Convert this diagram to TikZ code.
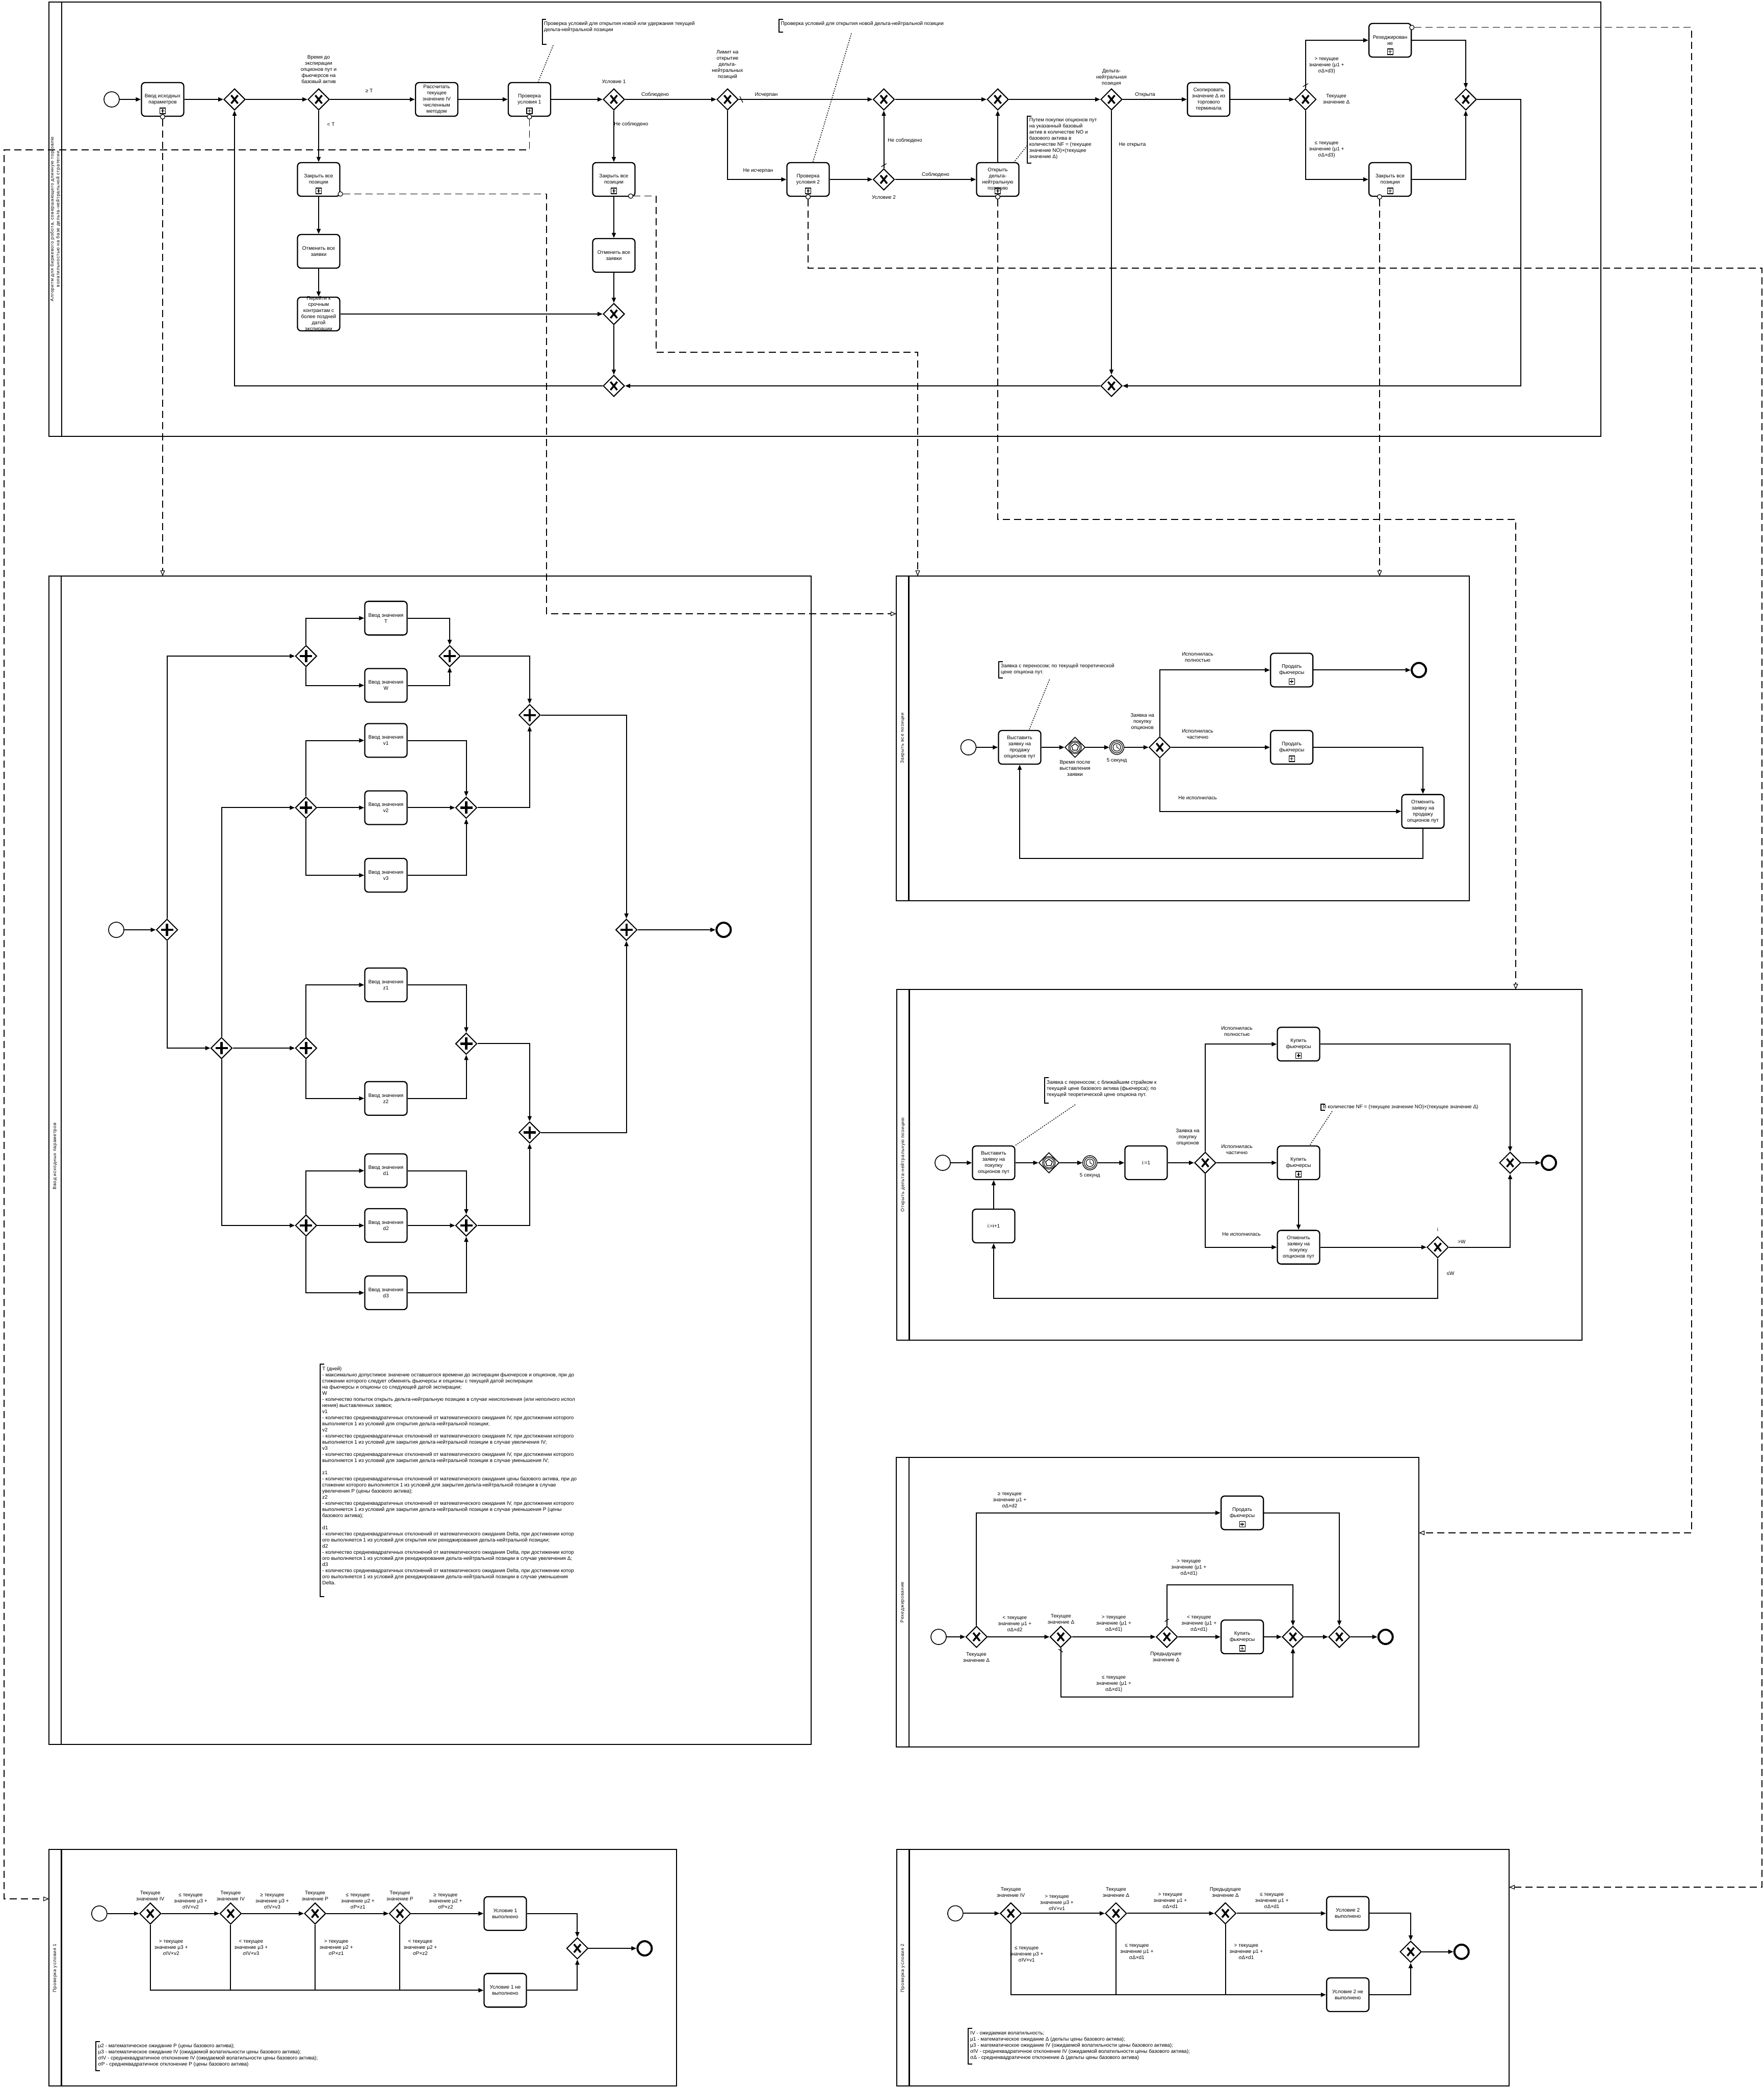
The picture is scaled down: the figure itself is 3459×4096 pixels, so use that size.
\documentclass[tikz,border=0pt]{standalone}
\usepackage{fontspec}
\setmainfont{Liberation Sans}
\newfontfamily\lanefont[LetterSpace=8]{Liberation Sans}
\usetikzlibrary{arrows.meta,shapes.geometric}

% inner marks of an event-based gateway and of a timer event
\newcommand\evgwmark[1]{%
  \draw[line width=1.2pt] (#1.center) circle[radius=12.5pt] (#1.center) circle[radius=10pt];
  \node[regular polygon, regular polygon sides=5, draw, line width=1.4pt, minimum size=14pt, inner sep=0pt] (#1-pent) at (#1.center) {};}
\newcommand\clockmark[1]{%
  \draw[line width=1.2pt] (#1.center) circle[radius=11pt];
  \draw[line width=1.2pt] (#1.center) circle[radius=7.5pt];
  \draw[line width=1.1pt] (#1.center) -- ([yshift=5.5pt]#1.center) (#1.center) -- ([xshift=4pt,yshift=-2.5pt]#1.center);}

\begin{document}
\begin{tikzpicture}[x=1pt,y=-1pt,
  font=\fontsize{10}{12}\selectfont,
  pool/.style={draw, line width=2.6pt},
  lanelbl/.style={rotate=90, align=center, inner sep=0pt, font={\lanefont\fontsize{9}{11.5}\selectfont}},
  task/.style={draw, rounded corners=7pt, line width=2.3pt, minimum width=83pt, minimum height=66pt,
    inner sep=1pt, align=center, fill=white},
  sub/.style={task, path picture={
    \draw[sharp corners, line width=1.2pt] ([xshift=-5.5pt,yshift=5pt]path picture bounding box.south) rectangle ([xshift=5.5pt,yshift=16pt]path picture bounding box.south);
    \draw[sharp corners, line width=1.5pt] ([yshift=7pt]path picture bounding box.south) -- ([yshift=14pt]path picture bounding box.south)
      ([xshift=-3.5pt,yshift=10.5pt]path picture bounding box.south) -- ([xshift=3.5pt,yshift=10.5pt]path picture bounding box.south);}},
  gw/.style={diamond, draw, line width=2pt, minimum width=42pt, minimum height=42pt, inner sep=0pt, aspect=1, fill=white},
  xgw/.style={gw, path picture={\draw[line width=3.6pt]
    ([xshift=-6.5pt,yshift=-8pt]path picture bounding box.center) -- ([xshift=6.5pt,yshift=8pt]path picture bounding box.center)
    ([xshift=-6.5pt,yshift=8pt]path picture bounding box.center) -- ([xshift=6.5pt,yshift=-8pt]path picture bounding box.center);}},
  pgw/.style={gw, path picture={\draw[line width=4.4pt]
    ([yshift=-12pt]path picture bounding box.center) -- ([yshift=12pt]path picture bounding box.center)
    ([xshift=-12pt]path picture bounding box.center) -- ([xshift=12pt]path picture bounding box.center);}},
  egw/.style={gw, line width=1.6pt, minimum width=40pt, minimum height=40pt},
  startev/.style={circle, draw, line width=1.6pt, minimum size=30pt, inner sep=0pt, fill=white},
  endev/.style={circle, draw, line width=4pt, minimum size=28pt, inner sep=0pt, fill=white},
  timer/.style={circle, draw, line width=1.4pt, minimum size=28pt, inner sep=0pt, fill=white},
  seq/.style={line width=2pt, -{Triangle[length=10pt,width=8pt]}},
  plain/.style={line width=2pt},
  msg/.style={line width=1.2pt, dash pattern=on 14pt off 8pt, -{Triangle[fill=white,length=11pt,width=9pt]}},
  mc/.style={circle, draw, fill=white, line width=1.2pt, minimum size=9pt, inner sep=0pt},
  lbl/.style={align=center, inner sep=0pt},
  note/.style={align=left, inner sep=0pt, anchor=north west},
  brk/.style={line width=2pt},
  assoc/.style={line width=1.5pt, dash pattern=on 2pt off 2.5pt},
  dflt/.style={line width=1.3pt}]
\useasboundingbox (0,0) rectangle (3459,4096);

% ================= main algorithm pool =================
\draw[pool] (96,4) rectangle (3140,856);
\draw[pool] (121,4) -- (121,856);
\node[lanelbl] (L1) at (108.5,430) {Алгоритм для  биржевого робота, совершающего длинную торговлю\\волатильностью на базе дельта-нейтральной стратегии};

\node[startev] (s1) at (219,195) {};
\node[sub] (tin) at (319,195) {Ввод исходных\\параметров};
\node[xgw] (g1) at (460,195) {};
\node[xgw] (g2) at (625,195) {};
\node[lbl, anchor=south] (g2l) at (625,164) {Время до\\экспирации\\опционов пут и\\фьючерсов на\\базовый актив};
\node[task] (tiv) at (856.5,195) {Рассчитать\\текущее\\значение IV\\численным\\методом};
\node[sub] (tc1) at (1038.5,195) {Проверка\\условия 1};
\node[xgw] (g3) at (1204,195) {};
\node[lbl] (g3l) at (1204,160) {Условие 1};
\node[xgw] (g4) at (1427,195) {};
\node[lbl, anchor=south] (g4l) at (1427,156) {Лимит на\\открытие\\дельта-\\нейтральных\\позиций};
\node[xgw] (ga) at (1733.5,195) {};
\node[xgw] (gb) at (1957,195) {};
\node[xgw] (gdn) at (2180,195) {};
\node[lbl, anchor=south] (gdnl) at (2180,169) {Дельта-\\нейтральная\\позиция};
\node[task] (tcopy) at (2370.6,195) {Скопировать\\значение Δ из\\торгового\\терминала};
\node[xgw] (gdel) at (2560.6,195) {};
\node[lbl] (gdell) at (2621,194) {Текущее\\значение Δ};
\node[sub] (treh) at (2726.6,79) {Рехеджирован\\ие};
\node[sub] (tcl3) at (2726.6,352) {Закрыть все\\позиции};
\node[xgw] (gm) at (2875,195) {};
\node[sub] (tcl1) at (625,352) {Закрыть все\\позиции};
\node[task] (tcan1) at (625,493) {Отменить все\\заявки};
\node[task] (tmove) at (625,616) {};
\node[lbl] (tmovel) at (tmove.center) {Перейти к\\срочным\\контрактам с\\более поздней\\датой\\экспирации};
\node[sub] (tcl2) at (1204,352) {Закрыть все\\позиции};
\node[task] (tcan2) at (1204,501) {Отменить все\\заявки};
\node[xgw] (g5) at (1204,616) {};
\node[xgw] (g6) at (1204,757) {};
\node[sub] (tc2) at (1585,352) {Проверка\\условия 2};
\node[xgw] (gc2) at (1733.5,352) {};
\node[lbl] (gc2l) at (1733.5,387) {Условие 2};
\node[sub] (topen) at (1957,352) {Открыть\\дельта-\\нейтральную\\позицию};
\node[xgw] (g7) at (2180,757) {};

\node[lbl] at (724,178) {≥  T};
\node[lbl] at (649,244) {< T};
\node[lbl] at (1285,186) {Соблюдено};
\node[lbl] at (1238,244) {Не соблюдено};
\node[lbl] at (1503,186) {Исчерпан};
\node[lbl] at (1487,335) {Не исчерпан};
\node[lbl] at (1775,276) {Не соблюдено};
\node[lbl] at (1835,343) {Соблюдено};
\node[lbl] at (2246,186) {Открыта};
\node[lbl] at (2221,284) {Не открыта};
\node[lbl] at (2602,129) {> текущее\\значение (μ1 +\\σΔ×d3)};
\node[lbl] at (2602,294) {≤ текущее\\значение (μ1 +\\σΔ×d3)};

\draw[brk] (1071,37.7) -| (1063.5,87) -- ++(8,0);
\node[note] (n1) at (1067,42) {Проверка условий для открытия новой или удержания текущей\\дельта-нейтральной позиции};
\draw[assoc] (1085,89) -- ([xshift=17pt]tc1.north);
\draw[brk] (1535.5,37.7) -| (1527.5,62.7) -- ++(8,0);
\node[note] (n2) at (1531.5,42) {Проверка условий для открытия новой дельта-нейтральной позиции};
\draw[assoc] (1670,65.5) -- ([xshift=9.5pt]tc2.north);
\draw[brk] (2022.7,227.5) -| (2014.7,320) -- ++(8,0);
\node[note] (n3) at (2018.6,231.5) {Путем покупки опционов пут\\на указанный базовый\\актив в количестве NO и\\базового актива в\\количестве NF = (текущее\\значение NO)×(текущее\\значение Δ)};
\draw[assoc] (2014.7,285.7) -- ([xshift=32pt]topen.north);

\draw[seq] (s1) -- (tin);
\draw[seq] (tin) -- (g1);
\draw[seq] (g1) -- (g2);
\draw[seq] (g2) -- (tiv);
\draw[seq] (tiv) -- (tc1);
\draw[seq] (tc1) -- (g3);
\draw[seq] (g3) -- (g4);
\draw[seq] (g4) -- (ga);
\draw[seq] (ga) -- (gb);
\draw[seq] (gb) -- (gdn);
\draw[seq] (gdn) -- (tcopy);
\draw[seq] (tcopy) -- (gdel);
\draw[seq] (gdel.north) |- (treh.west);
\draw[seq] (gdel.south) |- (tcl3.west);
\draw[seq] (treh.east) -| (gm.north);
\draw[seq] (tcl3.east) -| (gm.south);
\draw[seq] (gm.east) -- ++(86,0) |- (g7.east);
\draw[seq] (gdn.south) -- (g7.north);
\draw[seq] (g7.west) -- (g6.east);
\draw[seq] (g6.west) -| (g1.south);
\draw[seq] (g2.south) -- (tcl1.north);
\draw[seq] (tcl1) -- (tcan1);
\draw[seq] (tcan1) -- (tmove);
\draw[seq] (tmove) -- (g5);
\draw[seq] (g3.south) -- (tcl2.north);
\draw[seq] (tcl2) -- (tcan2);
\draw[seq] (tcan2) -- (g5);
\draw[seq] (g5) -- (g6);
\draw[seq] (g4.south) |- (tc2.west);
\draw[seq] (tc2) -- (gc2);
\draw[seq] (gc2) -- (ga);
\draw[seq] (gc2) -- (topen);
\draw[seq] (topen) -- (gb);
% default-flow marks
\draw[dflt] ([xshift=2pt,yshift=6pt]g4.east) -- ([xshift=8pt,yshift=-6pt]g4.east);
\draw[dflt] ([xshift=-5pt,yshift=3pt]gc2.north) -- ([xshift=5pt,yshift=9pt]gc2.north);
\draw[dflt] ([xshift=-5pt,yshift=3pt]gdel.north) -- ([xshift=5pt,yshift=9pt]gdel.north);

% ================= input parameters pool =================
\draw[pool] (96,1130) rectangle (1591,3422);
\draw[pool] (120,1130) -- (120,3422);
\node[lanelbl] (L2) at (108,2268) {Ввод исходных параметров};

\node[startev] (s2) at (228,1824) {};
\node[pgw] (pg0) at (327.6,1824) {};
\node[pgw] (pg1) at (600.3,1287) {};
\node[task] (tT) at (757,1212.6) {Ввод значения\\T};
\node[task] (tW) at (757,1344.5) {Ввод значения\\W};
\node[pgw] (pg1j) at (882,1287) {};
\node[pgw] (pgA) at (1038.8,1402.7) {};
\node[pgw] (pg2) at (434.5,2056) {};
\node[pgw] (pgv) at (600.3,1584.4) {};
\node[task] (tv1) at (757,1452.5) {Ввод значения\\v1};
\node[task] (tv2) at (757,1584.4) {Ввод значения\\v2};
\node[task] (tv3) at (757,1717) {Ввод значения\\v3};
\node[pgw] (pgvj) at (914.5,1584.4) {};
\node[pgw] (pgz) at (600.3,2056) {};
\node[task] (tz1) at (757,1932) {Ввод значения\\z1};
\node[task] (tz2) at (757,2154.7) {Ввод значения\\z2};
\node[pgw] (pgzj) at (914.5,2047.4) {};
\node[pgw] (pgB) at (1038.8,2221.5) {};
\node[pgw] (pgd) at (600.3,2404) {};
\node[task] (td1) at (757,2296.5) {Ввод значения\\d1};
\node[task] (td2) at (757,2404) {Ввод значения\\d2};
\node[task] (td3) at (757,2536) {Ввод значения\\d3};
\node[pgw] (pgdj) at (914.5,2404) {};
\node[pgw] (pgE) at (1228.7,1824) {};
\node[endev] (e2) at (1419.4,1824) {};

\draw[seq] (s2) -- (pg0);
\draw[seq] (pg0.north) |- (pg1.west);
\draw[seq] (pg0.south) |- (pg2.west);
\draw[seq] (pg1.north) |- (tT.west);
\draw[seq] (pg1.south) |- (tW.west);
\draw[seq] (tT.east) -| (pg1j.north);
\draw[seq] (tW.east) -| (pg1j.south);
\draw[seq] (pg1j.east) -| (pgA.north);
\draw[seq] (pgvj.east) -| (pgA.south);
\draw[seq] (pgA.east) -| (pgE.north);
\draw[seq] (pg2.north) |- (pgv.west);
\draw[seq] (pg2) -- (pgz);
\draw[seq] (pg2.south) |- (pgd.west);
\draw[seq] (pgv.north) |- (tv1.west);
\draw[seq] (pgv) -- (tv2);
\draw[seq] (pgv.south) |- (tv3.west);
\draw[seq] (tv1.east) -| (pgvj.north);
\draw[seq] (tv2) -- (pgvj);
\draw[seq] (tv3.east) -| (pgvj.south);
\draw[seq] (pgz.north) |- (tz1.west);
\draw[seq] (pgz.south) |- (tz2.west);
\draw[seq] (tz1.east) -| (pgzj.north);
\draw[seq] (tz2.east) -| (pgzj.south);
\draw[seq] (pgzj.east) -| (pgB.north);
\draw[seq] (pgdj.east) -| (pgB.south);
\draw[seq] (pgB.east) -| (pgE.south);
\draw[seq] (pgd.north) |- (td1.west);
\draw[seq] (pgd) -- (td2);
\draw[seq] (pgd.south) |- (td3.west);
\draw[seq] (td1.east) -| (pgdj.north);
\draw[seq] (td2) -- (pgdj);
\draw[seq] (td3.east) -| (pgdj.south);
\draw[seq] (pgE) -- (e2);

\draw[brk] (636,2676) -| (628,3132) -- ++(8,0);
\node[note] (n4) at (632,2681) {T (дней)\\
- максимально допустимое значение оставшегося времени до экспирации фьючерсов и опционов, при до\\
стижении которого следует обменять фьючерсы и опционы с текущей датой экспирации\\
на фьючерсы и опционы со следующей датой экспирации;\\
W\\
- количество попыток открыть дельта-нейтральную позицию в случае неисполнения (или неполного испол\\
нения) выставленных заявок;\\
v1\\
- количество среднеквадратичных отклонений от математического ожидания IV, при достижении которого\\
выполняется 1 из условий для открытия дельта-нейтральной позиции;\\
v2\\
- количество среднеквадратичных отклонений от математического ожидания IV, при достижении которого\\
выполняется 1 из условий для закрытия дельта-нейтральной позиции в случае увеличения IV;\\
v3\\
- количество среднеквадратичных отклонений от математического ожидания IV, при достижении которого\\
выполняется 1 из условий для закрытия дельта-нейтральной позиции в случае уменьшения IV;\\
~\\
z1\\
- количество среднеквадратичных отклонений от математического ожидания цены базового актива, при до\\
стижении которого выполняется 1 из условий для закрытия дельта-нейтральной позиции в случае\\
увеличения P (цены базового актива);\\
z2\\
- количество среднеквадратичных отклонений от математического ожидания IV, при достижении которого\\
выполняется 1 из условий для закрытия дельта-нейтральной позиции в случае уменьшения P (цены\\
базового актива);\\
~\\
d1\\
- количество среднеквадратичных отклонений от математического ожидания Delta, при достижении котор\\
ого выполняется 1 из условий для открытия или рехеджирования дельта-нейтральной позиции;\\
d2\\
- количество среднеквадратичных отклонений от математического ожидания Delta, при достижении котор\\
ого выполняется 1 из условий для рехеджирования дельта-нейтральной позиции в случае увеличения Δ;\\
d3\\
- количество среднеквадратичных отклонений от математического ожидания Delta, при достижении котор\\
ого выполняется 1 из условий для рехеджирования дельта-нейтральной позиции в случае уменьшения\\
Delta.};

% ================= close all positions pool =================
\draw[pool] (1758,1130) rectangle (2882,1767);
\draw[pool] (1782.5,1130) -- (1782.5,1767);
\node[lanelbl] (L3) at (1770.5,1448) {Закрыть все позиции};

\node[startev] (s3) at (1899.5,1466) {};
\node[task] (t3a) at (2000,1466) {Выставить\\заявку на\\продажу\\опционов пут};
\node[egw] (eg3) at (2108.6,1466) {};
\evgwmark{eg3}
\node[timer] (tm3) at (2190.6,1466) {};
\clockmark{tm3}
\node[xgw] (gx3) at (2274.8,1466) {};
\node[sub] (t3b) at (2533.6,1314.4) {Продать\\фьючерсы};
\node[endev] (e3) at (2783,1314.4) {};
\node[sub] (t3c) at (2533.6,1466) {Продать\\фьючерсы};
\node[task] (t3d) at (2791,1591.6) {Отменить\\заявку на\\продажу\\опционов пут};

\node[lbl, anchor=north] at (2108.6,1491) {Время после\\выставления\\заявки};
\node[lbl] at (2190.6,1492) {5 секунд};
\node[lbl] at (2240.7,1415.5) {Заявка на\\покупку\\опционов};
\node[lbl] at (2349,1289) {Исполнилась\\полностью};
\node[lbl] at (2349,1440) {Исполнилась\\частично};
\node[lbl] at (2349,1565) {Не исполнилась};
\draw[brk] (1967,1297.5) -| (1959,1330) -- ++(8,0);
\node[note] (n5) at (1963,1301.5) {Заявка с переносом; по текущей теоретической\\цене опциона пут.};
\draw[assoc] (2058.5,1333) -- ([xshift=18.5pt]t3a.north);

\draw[seq] (s3) -- (t3a);
\draw[seq] (t3a) -- (eg3);
\draw[seq] (eg3) -- (tm3);
\draw[seq] (tm3) -- (gx3);
\draw[seq] (gx3.north) |- (t3b.west);
\draw[seq] (t3b) -- (e3);
\draw[seq] (gx3) -- (t3c);
\draw[seq] (t3c.east) -| (t3d.north);
\draw[seq] (gx3.south) |- (t3d.west);
\draw[seq] (t3d.south) -- ++(0,58.7) -| (t3a.south);

% ================= open delta-neutral position pool =================
\draw[pool] (1759,1941) rectangle (3103,2629);
\draw[pool] (1783.5,1941) -- (1783.5,2629);
\node[lanelbl] (L4) at (1771,2285) {Открыть дельта-нейтральную позицию};

\node[startev] (s4) at (1849,2281) {};
\node[task] (t4a) at (1949,2281) {Выставить\\заявку на\\покупку\\опционов пут};
\node[egw] (eg4) at (2057.4,2281) {};
\evgwmark{eg4}
\node[timer] (tm4) at (2137.8,2281) {};
\clockmark{tm4}
\node[task] (t4i) at (2248,2281) {i:=1};
\node[xgw] (gx4) at (2364,2281) {};
\node[sub] (t4b) at (2547,2048.3) {Купить\\фьючерсы};
\node[sub] (t4c) at (2547,2281) {Купить\\фьючерсы};
\node[task] (t4d) at (2547,2446.6) {Отменить\\заявку на\\покупку\\опционов пут};
\node[xgw] (gi) at (2820,2446.6) {};
\node[xgw] (gm4) at (2962,2281) {};
\node[endev] (e4) at (3038,2281) {};
\node[task] (t4inc) at (1949,2405) {i:=i+1};

\node[lbl] at (2137.8,2306) {5 секунд};
\node[lbl] at (2329.6,2230.5) {Заявка на\\покупку\\опционов};
\node[lbl] at (2426,2023) {Исполнилась\\полностью};
\node[lbl] at (2426,2255) {Исполнилась\\частично};
\node[lbl] at (2435,2421.5) {Не исполнилась};
\node[lbl] at (2820,2411.6) {i};
\node[lbl] at (2867,2436) {>W};
\node[lbl] at (2845,2498) {≤W};
\draw[brk] (2599,2166) -| (2591,2178) -- ++(8,0);
\node[note, anchor=west] (n6) at (2594.8,2171.5) {В количестве NF = (текущее значение NO)×(текущее значение Δ)};
\draw[assoc] (2613,2180) -- ([xshift=22pt]t4c.north);
\draw[brk] (2056.8,2113.7) -| (2048.8,2164.3) -- ++(8,0);
\node[note] (n7) at (2053,2119) {Заявка с переносом; с ближайшим страйком к\\текущей цене базового актива (фьючерса); по\\текущей теоретической цене опциона пут.};
\draw[assoc] (2109,2167) -- (t4a.north east);

\draw[seq] (s4) -- (t4a);
\draw[seq] (t4a) -- (eg4);
\draw[seq] (eg4) -- (tm4);
\draw[seq] (tm4) -- (t4i);
\draw[seq] (t4i) -- (gx4);
\draw[seq] (gx4.north) |- (t4b.west);
\draw[seq] (gx4) -- (t4c);
\draw[seq] (gx4.south) |- (t4d.west);
\draw[seq] (t4c) -- (t4d);
\draw[seq] (t4d) -- (gi);
\draw[seq] (gi.east) -| (gm4.south);
\draw[seq] (t4b.east) -| (gm4.north);
\draw[seq] (gm4) -- (e4);
\draw[seq] (gi.south) -- ++(0,78.4) -| (t4inc.south);
\draw[seq] (t4inc) -- (t4a);

% ================= rehedging pool =================
\draw[pool] (1758,2859) rectangle (2783,3427);
\draw[pool] (1783,2859) -- (1783,3427);
\node[lanelbl] (L5) at (1770.5,3143) {Рехеджирование};

\node[startev] (s5) at (1841,3211) {};
\node[xgw] (r1) at (1915.4,3211) {};
\node[sub] (tsell) at (2436.6,2967.7) {Продать\\фьючерсы};
\node[xgw] (r2) at (2080.5,3211) {};
\node[xgw] (r3) at (2288.7,3211) {};
\node[sub] (tbuy) at (2436.6,3211) {Купить\\фьючерсы};
\node[xgw] (r4) at (2536,3211) {};
\node[xgw] (r5) at (2627,3211) {};
\node[endev] (e5) at (2717.7,3211) {};

\node[lbl] at (1915,3251) {Текущее\\значение Δ};
\node[lbl] at (2081,3176) {Текущее\\значение Δ};
\node[lbl] at (2287,3250) {Предыдущее\\значение Δ};
\node[lbl] at (1980.4,2942.7) {≥ текущее\\значение μ1 +\\σΔ×d2};
\node[lbl] at (1990.4,3185.5) {< текущее\\значение μ1 +\\σΔ×d2};
\node[lbl] at (2184.6,3185.5) {> текущее\\значение (μ1 +\\σΔ×d1)};
\node[lbl] at (2184.6,3303) {≤ текущее\\значение (μ1 +\\σΔ×d1)};
\node[lbl] at (2331.8,3076) {> текущее\\значение (μ1 +\\σΔ×d1)};
\node[lbl] at (2351.7,3185.5) {< текущее\\значение (μ1 +\\σΔ×d1)};

\draw[seq] (s5) -- (r1);
\draw[seq] (r1.north) |- (tsell.west);
\draw[seq] (r1) -- (r2);
\draw[seq] (r2) -- (r3);
\draw[seq] (r2.south) -- ++(0,96) -| (r4.south);
\draw[seq] (r3.north) -- ++(0,-80) -| (r4.north);
\draw[seq] (r3) -- (tbuy);
\draw[seq] (tbuy) -- (r4);
\draw[seq] (r4) -- (r5);
\draw[seq] (tsell.east) -| (r5.north);
\draw[seq] (r5) -- (e5);
\draw[dflt] ([xshift=-4pt,yshift=-2pt]r2.south) -- ([xshift=4pt,yshift=-8pt]r2.south);
\draw[dflt] ([xshift=-4pt,yshift=8pt]r3.north) -- ([xshift=4pt,yshift=13pt]r3.north);

% ================= condition 1 check pool =================
\draw[pool] (96,3628) rectangle (1327,4092);
\draw[pool] (120.4,3628) -- (120.4,4092);
\node[lanelbl] (L6) at (108,3861) {Проверка условия 1};

\node[startev] (s6) at (194.8,3753.7) {};
\node[xgw] (c1) at (294.8,3753.7) {};
\node[xgw] (c2) at (452.4,3753.7) {};
\node[xgw] (c3) at (618,3753.7) {};
\node[xgw] (c4) at (784.4,3753.7) {};
\node[task] (tc1y) at (991,3753.7) {Условие 1\\выполнено};
\node[task] (tc1n) at (991,3904.3) {Условие 1 не\\выполнено};
\node[xgw] (cm) at (1132.4,3822) {};
\node[endev] (e6) at (1264.4,3822) {};

\node[lbl] at (294.8,3719.3) {Текущее\\значение IV};
\node[lbl] at (452.4,3719.3) {Текущее\\значение IV};
\node[lbl] at (618,3719.3) {Текущее\\значение P};
\node[lbl] at (784.4,3719.3) {Текущее\\значение P};
\node[lbl] at (374,3729) {≤ текущее\\значение μ3 +\\σIV×v2};
\node[lbl] at (534,3729) {≥ текущее\\значение μ3 +\\σIV×v3};
\node[lbl] at (702,3729) {≤ текущее\\значение μ2 +\\σP×z1};
\node[lbl] at (874,3729) {≥ текущее\\значение μ2 +\\σP×z2};
\node[lbl] at (335.6,3821) {> текущее\\значение μ3 +\\σIV×v2};
\node[lbl] at (492.4,3821) {< текущее\\значение μ3 +\\σIV×v3};
\node[lbl] at (659.6,3821) {> текущее\\значение μ2 +\\σP×z1};
\node[lbl] at (824.4,3821) {< текущее\\значение μ2 +\\σP×z2};

\draw[seq] (s6) -- (c1);
\draw[seq] (c1) -- (c2);
\draw[seq] (c2) -- (c3);
\draw[seq] (c3) -- (c4);
\draw[seq] (c4) -- (tc1y);
\draw[seq] (c1.south) |- (tc1n.west);
\draw[plain] (c2.south) -- (c2.south |- tc1n.west);
\draw[plain] (c3.south) -- (c3.south |- tc1n.west);
\draw[plain] (c4.south) -- (c4.south |- tc1n.west);
\draw[seq] (tc1y.east) -| (cm.north);
\draw[seq] (tc1n.east) -| (cm.south);
\draw[seq] (cm) -- (e6);

\draw[brk] (195.6,4005) -| (187.6,4062) -- ++(8,0);
\node[note] (n8) at (192.4,4009) {μ2 - математическое ожидание P (цены базового актива);\\μ3 - математическое ожидание IV (ожидаемой волатильности цены базового актива);\\σIV - среднеквадратичное отклонение IV (ожидаемой волатильности цены базового актива);\\σP - среднеквадратичное отклонение P (цены базового актива)};

% ================= condition 2 check pool =================
\draw[pool] (1759,3628) rectangle (2960,4092);
\draw[pool] (1783.6,3628) -- (1783.6,4092);
\node[lanelbl] (L7) at (1771,3861) {Проверка условия 2};

\node[startev] (s7) at (1873.9,3753.4) {};
\node[xgw] (d1) at (1982.7,3753.4) {};
\node[xgw] (d2) at (2188.9,3753.4) {};
\node[xgw] (d3) at (2403.5,3753.4) {};
\node[task] (tc2y) at (2643.6,3753.4) {Условие 2\\выполнено};
\node[task] (tc2n) at (2643.6,3913) {Условие 2 не\\выполнено};
\node[xgw] (dm) at (2767,3828.7) {};
\node[endev] (e7) at (2866.7,3828.7) {};

\node[lbl] at (1982.7,3712.4) {Текущее\\значение IV};
\node[lbl] at (2188.9,3712.4) {Текущее\\значение Δ};
\node[lbl] at (2403.5,3712.4) {Предыдущее\\значение Δ};
\node[lbl] at (2073,3733) {> текущее\\значение μ3 +\\σIV×v1};
\node[lbl] at (2295.4,3728.5) {> текущее\\значение μ1 +\\σΔ×d1};
\node[lbl] at (2494.6,3728.5) {≤ текущее\\значение μ1 +\\σΔ×d1};
\node[lbl] at (2013.6,3833.6) {≤ текущее\\значение μ3 +\\σIV×v1};
\node[lbl] at (2229.8,3828.5) {≤ текущее\\значение μ1 +\\σΔ×d1};
\node[lbl] at (2444.4,3828.5) {> текущее\\значение μ1 +\\σΔ×d1};

\draw[seq] (s7) -- (d1);
\draw[seq] (d1) -- (d2);
\draw[seq] (d2) -- (d3);
\draw[seq] (d3) -- (tc2y);
\draw[seq] (d1.south) |- (tc2n.west);
\draw[plain] (d2.south) -- (d2.south |- tc2n.west);
\draw[plain] (d3.south) -- (d3.south |- tc2n.west);
\draw[seq] (tc2y.east) -| (dm.north);
\draw[seq] (tc2n.east) -| (dm.south);
\draw[seq] (dm) -- (e7);

\draw[brk] (1906.6,3978.6) -| (1898.6,4049) -- ++(8,0);
\node[note] (n9) at (1903,3984.4) {IV - ожидаемая волатильность;\\μ1 - математическое ожидание Δ (дельты цены базового актива);\\μ3 - математическое ожидание IV (ожидаемой волатильности цены базового актива);\\σIV - среднеквадратичное отклонение IV (ожидаемой волатильности цены базового актива);\\σΔ - среднеквадратичное отклонение Δ (дельты цены базового актива)};

% ================= message flows between pools =================
\coordinate (p2in) at (319,1130);
\coordinate (p3in) at (1758,1204);
\coordinate (p3topA) at (1800,1130);
\coordinate (p3topB) at (2706,1130);
\coordinate (p4in) at (2973,1941);
\coordinate (p5in) at (2783,3007);
\coordinate (p6in) at (96,3725);
\coordinate (p7in) at (2960,3702);

\node[mc] (mIn) at (tin.south) {};
\node[mc] (mC1) at (tc1.south) {};
\node[mc] (mCl1) at ([yshift=5.6pt]tcl1.south east) {};
\node[mc] (mCl2) at ([xshift=-9.6pt,yshift=1.5pt]tcl2.south east) {};
\node[mc] (mC2) at (tc2.south) {};
\node[mc] (mOpen) at (topen.south) {};
\node[mc] (mReh) at ([yshift=-9pt]treh.north east) {};
\node[mc] (mCl3) at ([xshift=-20.6pt]tcl3.south) {};

\draw[msg] (mIn) -- (p2in);
\draw[msg] (mC1) |- (8,294) |- (p6in);
\draw[msg] (mCl1) -| (1072,1204) -- (p3in);
\draw[msg] (mCl2) -| (1287,691) -| (p3topA);
\draw[msg] (mC2) |- (3456,526) |- (p7in);
\draw[msg] (mReh) -| (3318,3007) -- (p5in);
\draw[msg] (mOpen) |- (2973,1019) -- (p4in);
\draw[msg] (mCl3) -- (p3topB);
\end{tikzpicture}
\end{document}
